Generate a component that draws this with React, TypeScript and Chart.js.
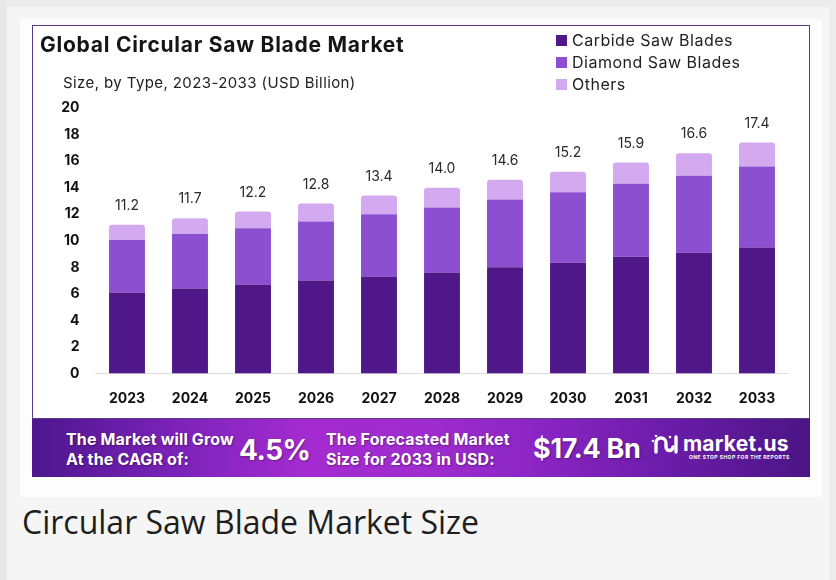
import React, { useEffect, useRef } from "react";
import { Chart, registerables } from "chart.js";

Chart.register(...registerables);

const years = ["2023", "2024", "2025", "2026", "2027", "2028", "2029", "2030", "2031", "2032", "2033"];
const carbide = [6.1, 6.4, 6.7, 7.0, 7.3, 7.6, 8.0, 8.35, 8.8, 9.1, 9.5];
const diamond = [3.95, 4.1, 4.25, 4.45, 4.7, 4.9, 5.1, 5.3, 5.5, 5.8, 6.1];
const others = [1.15, 1.2, 1.25, 1.35, 1.4, 1.5, 1.5, 1.55, 1.6, 1.7, 1.8];
const totals = ["11.2", "11.7", "12.2", "12.8", "13.4", "14.0", "14.6", "15.2", "15.9", "16.6", "17.4"];
const yTicks = [0, 2, 4, 6, 8, 10, 12, 14, 16, 18, 20];

const seriesNames = ["Carbide Saw Blades", "Diamond Saw Blades", "Others"];
const seriesColors = ["#4f1787", "#8b4fcf", "#d3a9ef"];

const FONT = "Inter, 'Noto Sans', sans-serif";

const totalsPlugin = {
  id: "totalsLabels",
  afterDatasetsDraw(chart: any) {
    const ctx = chart.ctx;
    const yScale = chart.scales.y;
    const lastMeta = chart.getDatasetMeta(chart.data.datasets.length - 1);
    ctx.save();
    ctx.font = `400 14px ${FONT}`;
    ctx.fillStyle = "#2a2a2a";
    ctx.textAlign = "center";
    ctx.textBaseline = "middle";
    totals.forEach((t, i) => {
      const sum = carbide[i] + diamond[i] + others[i];
      const x = lastMeta.data[i].x;
      const y = yScale.getPixelForValue(sum) - 19;
      ctx.fillText(t, x, y);
    });
    ctx.restore();
  },
};

function BarChart() {
  const ref = useRef<HTMLCanvasElement | null>(null);
  useEffect(() => {
    if (!ref.current) return;
    const chart = new Chart(ref.current, {
      type: "bar",
      data: {
        labels: years,
        datasets: [
          { label: seriesNames[0], data: carbide, backgroundColor: seriesColors[0], borderWidth: 0 },
          { label: seriesNames[1], data: diamond, backgroundColor: seriesColors[1], borderWidth: 0 },
          {
            label: seriesNames[2],
            data: others,
            backgroundColor: seriesColors[2],
            borderWidth: 0,
            borderRadius: { topLeft: 3, topRight: 3, bottomLeft: 0, bottomRight: 0 },
            borderSkipped: false,
          },
        ],
      },
      options: {
        animation: false,
        responsive: false,
        maintainAspectRatio: false,
        devicePixelRatio: 1,
        layout: { padding: { top: 82, right: 20.5, bottom: 0, left: 0 } },
        datasets: { bar: { barPercentage: 0.57, categoryPercentage: 1 } },
        plugins: {
          legend: { display: false },
          tooltip: { enabled: false },
          title: { display: false },
        },
        scales: {
          x: {
            stacked: true,
            grid: { display: false, drawTicks: false },
            border: { display: true, color: "#ddd8e4", width: 1 },
            ticks: {
              padding: 17,
              color: "#111",
              font: { family: FONT, size: 14, weight: "bold" },
            },
            afterFit(scale: any) {
              scale.height = 44.5;
            },
          },
          y: {
            stacked: true,
            min: 0,
            max: 20,
            afterBuildTicks(scale: any) {
              scale.ticks = yTicks.map((v) => ({ value: v }));
            },
            grid: { display: false, drawTicks: false },
            border: { display: false },
            ticks: {
              padding: 16,
              color: "#111",
              font: { family: FONT, size: 14, weight: "bold" },
            },
            afterFit(scale: any) {
              scale.width = 62.5;
            },
          },
        },
      },
      plugins: [totalsPlugin],
    });
    return () => chart.destroy();
  }, []);
  return (
    <canvas
      ref={ref}
      width={776}
      height={392}
      style={{ position: "absolute", left: 33, top: 26, width: 776, height: 392 }}
    />
  );
}

function Logo() {
  return (
    <svg width="28" height="24" viewBox="0 0 28 24" style={{ position: "absolute", left: 651, top: 432 }}>
      <g fill="none" stroke="#fff" strokeWidth="3.4" strokeLinecap="round" strokeLinejoin="round">
        <path d="M5 20 V11 a5 5 0 0 1 10 0 V15 a3.5 3.5 0 0 0 7 0" />
        <path d="M25 5 V20" />
      </g>
      <g fill="#fff">
        <circle cx="2" cy="9" r="1.3" />
        <circle cx="5" cy="4" r="1.3" />
        <circle cx="19" cy="5" r="1.3" />
      </g>
    </svg>
  );
}

export default function App() {
  const white = "#fff";
  const shadow = "1px 1px 2px rgba(0,0,0,0.35)";
  const bannerText = {
    position: "absolute" as const,
    top: 429,
    fontSize: 16,
    fontWeight: 700,
    color: white,
    lineHeight: "20px",
    letterSpacing: 0.15,
    textShadow: shadow,
    whiteSpace: "nowrap" as const,
  };
  return (
    <div
      style={{
        position: "absolute",
        left: 0,
        top: 0,
        width: 836,
        height: 580,
        background: "#f5f5f5",
        overflow: "hidden",
        fontFamily: FONT,
      }}
    >
      <div style={{ position: "absolute", left: 0, top: 0, width: 836, height: 7, background: "#ebebeb" }} />
      <div style={{ position: "absolute", left: 0, top: 0, width: 7, height: 580, background: "#e8e8e8" }} />
      <div style={{ position: "absolute", left: 829, top: 0, width: 7, height: 580, background: "#ededed" }} />
      <div style={{ position: "absolute", left: 20, top: 19, width: 802, height: 478, background: "#fdfdfd" }} />
      <div
        style={{
          position: "absolute",
          left: 32,
          top: 25,
          width: 776,
          height: 392,
          background: "#fff",
          border: "1px solid #5a3a86",
        }}
      />
      <BarChart />
      <div
        style={{
          position: "absolute",
          left: 40,
          top: 31,
          fontSize: 21,
          fontWeight: 700,
          color: "#151515",
          lineHeight: "28px",
          letterSpacing: 0.75,
          whiteSpace: "nowrap",
        }}
      >
        Global Circular Saw Blade Market
      </div>
      <div
        style={{
          position: "absolute",
          left: 63,
          top: 72,
          fontSize: 15,
          color: "#222",
          lineHeight: "22px",
          letterSpacing: 0.4,
          whiteSpace: "nowrap",
        }}
      >
        Size, by Type, 2023-2033 (USD Billion)
      </div>
      {seriesNames.map((n, i) => (
        <div
          key={n}
          style={{
            position: "absolute",
            left: 556,
            top: 29 + i * 22,
            height: 22,
            display: "flex",
            alignItems: "center",
            whiteSpace: "nowrap",
          }}
        >
          <div style={{ width: 11, height: 11, background: seriesColors[i], marginRight: 5 }} />
          <span style={{ fontSize: 16, color: "#222", lineHeight: "22px", letterSpacing: 0.5 }}>{n}</span>
        </div>
      ))}
      <div
        style={{
          position: "absolute",
          left: 32,
          top: 419,
          width: 778,
          height: 58,
          background:
            "linear-gradient(90deg, #4d168d 0%, #7a22b8 18%, #a42bd0 35%, #a02ccf 50%, #8a25c4 65%, #6a1ca8 82%, #4b1584 100%)",
        }}
      />
      <div style={{ ...bannerText, left: 66 }}>
        The Market will Grow
        <br />
        At the CAGR of:
      </div>
      <div
        style={{
          position: "absolute",
          left: 239,
          top: 433,
          fontSize: 28,
          fontWeight: 700,
          color: white,
          lineHeight: "34px",
          letterSpacing: -0.5,
          textShadow: shadow,
          whiteSpace: "nowrap",
        }}
      >
        4.5%
      </div>
      <div style={{ ...bannerText, left: 326 }}>
        The Forecasted Market
        <br />
        Size for 2033 in USD:
      </div>
      <div
        style={{
          position: "absolute",
          left: 533,
          top: 432,
          fontSize: 27,
          fontWeight: 700,
          color: white,
          lineHeight: "34px",
          letterSpacing: -0.3,
          textShadow: shadow,
          whiteSpace: "nowrap",
        }}
      >
        $17.4 Bn
      </div>
      <Logo />
      <div
        style={{
          position: "absolute",
          left: 683,
          top: 433,
          fontSize: 21,
          fontWeight: 700,
          color: white,
          lineHeight: "22px",
          letterSpacing: 0.2,
          whiteSpace: "nowrap",
        }}
      >
        market.us
      </div>
      <div
        style={{
          position: "absolute",
          left: 689,
          top: 454,
          fontSize: 5,
          fontWeight: 700,
          color: white,
          lineHeight: "6px",
          letterSpacing: 0.45,
          whiteSpace: "nowrap",
        }}
      >
        ONE STOP SHOP FOR THE REPORTS
      </div>
      <div
        style={{
          position: "absolute",
          left: 22,
          top: 502,
          fontSize: 32,
          fontFamily: "'Open Sans', sans-serif",
          color: "#1e1e1e",
          lineHeight: "40px",
          whiteSpace: "nowrap",
        }}
      >
        Circular Saw Blade Market Size
      </div>
    </div>
  );
}
